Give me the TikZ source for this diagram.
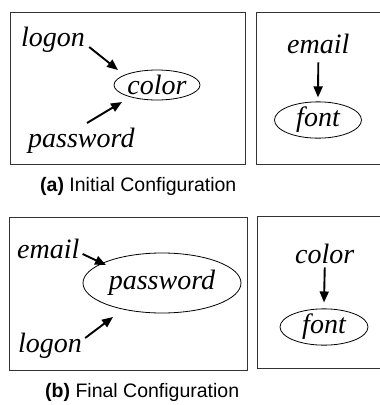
\documentclass[tikz,border=0pt]{standalone}
\usepackage{fontspec}
\setmainfont{Liberation Serif}
\setsansfont{Liberation Sans}
\usetikzlibrary{shapes.geometric,arrows.meta,calc}
\tikzset{
  frame/.style={draw=black!80,line width=0.9pt},
  word/.style={font=\fontsize{28}{30}\selectfont\itshape,inner sep=0pt,anchor=base west},
  oval/.style={draw=black,line width=0.8pt,ellipse,inner sep=0pt,font=\fontsize{28}{30}\selectfont\itshape},
  arr/.style={line width=1.9pt,-{Triangle[length=11pt,width=9pt]}},
  captext/.style={font=\sffamily\fontsize{19.5}{22}\selectfont,inner sep=0pt,anchor=base west}
}
\begin{document}
\begin{tikzpicture}[x=1pt,y=-1pt]
\useasboundingbox (0,0) rectangle (380,405);
% panel (a)
\draw[frame] (10,12) rectangle (245,164);
\draw[frame] (256,12) rectangle (385,164);
\node[word] (logonA) at (21,46) {logon};
\node[word] (passA) at (28,147) {password};
\node[oval,minimum width=86pt,minimum height=30pt] (colorA) at (157,85) {color};
\draw[arr] ([shift={(4,1)}]logonA.base east) -- ([shift={(-39,-15)}]colorA.center);
\draw[arr] ([shift={(59,-24)}]passA.base west) -- ([shift={(-35,17)}]colorA.center);
\node[word] (emailA) at (287,53) {email};
\node[oval,minimum width=87pt,minimum height=29pt] (fontA) at (318,120) {font};
\draw[arr] ([shift={(0,9)}]emailA.south) -- ([shift={(0,-4)}]fontA.north);
\node[captext] (capA) at (40,191) {\textbf{(a)} Initial Configuration};
% panel (b)
\draw[frame] (9,217) rectangle (247,370);
\draw[frame] (257,216) rectangle (385,368);
\node[word] (emailB) at (17,258) {email};
\node[word] (logonB) at (18,352) {logon};
\node[oval,minimum width=158pt,minimum height=60pt] (passB) at (162,283) {password};
\draw[arr] ([shift={(3,-4)}]emailB.base east) -- ([shift={(-56,-18)}]passB.center);
\draw[arr] ([shift={(3,-14)}]logonB.base east) -- ([shift={(-49,34)}]passB.center);
\node[word] (colorB) at (295,263) {color};
\node[oval,minimum width=88pt,minimum height=31pt] (fontB) at (324,327) {font};
\draw[arr] ([shift={(0,4)}]colorB.south) -- ([shift={(0,-6)}]fontB.north);
\node[captext] (capB) at (45,397) {\textbf{(b)} Final Configuration};
\end{tikzpicture}
\end{document}
